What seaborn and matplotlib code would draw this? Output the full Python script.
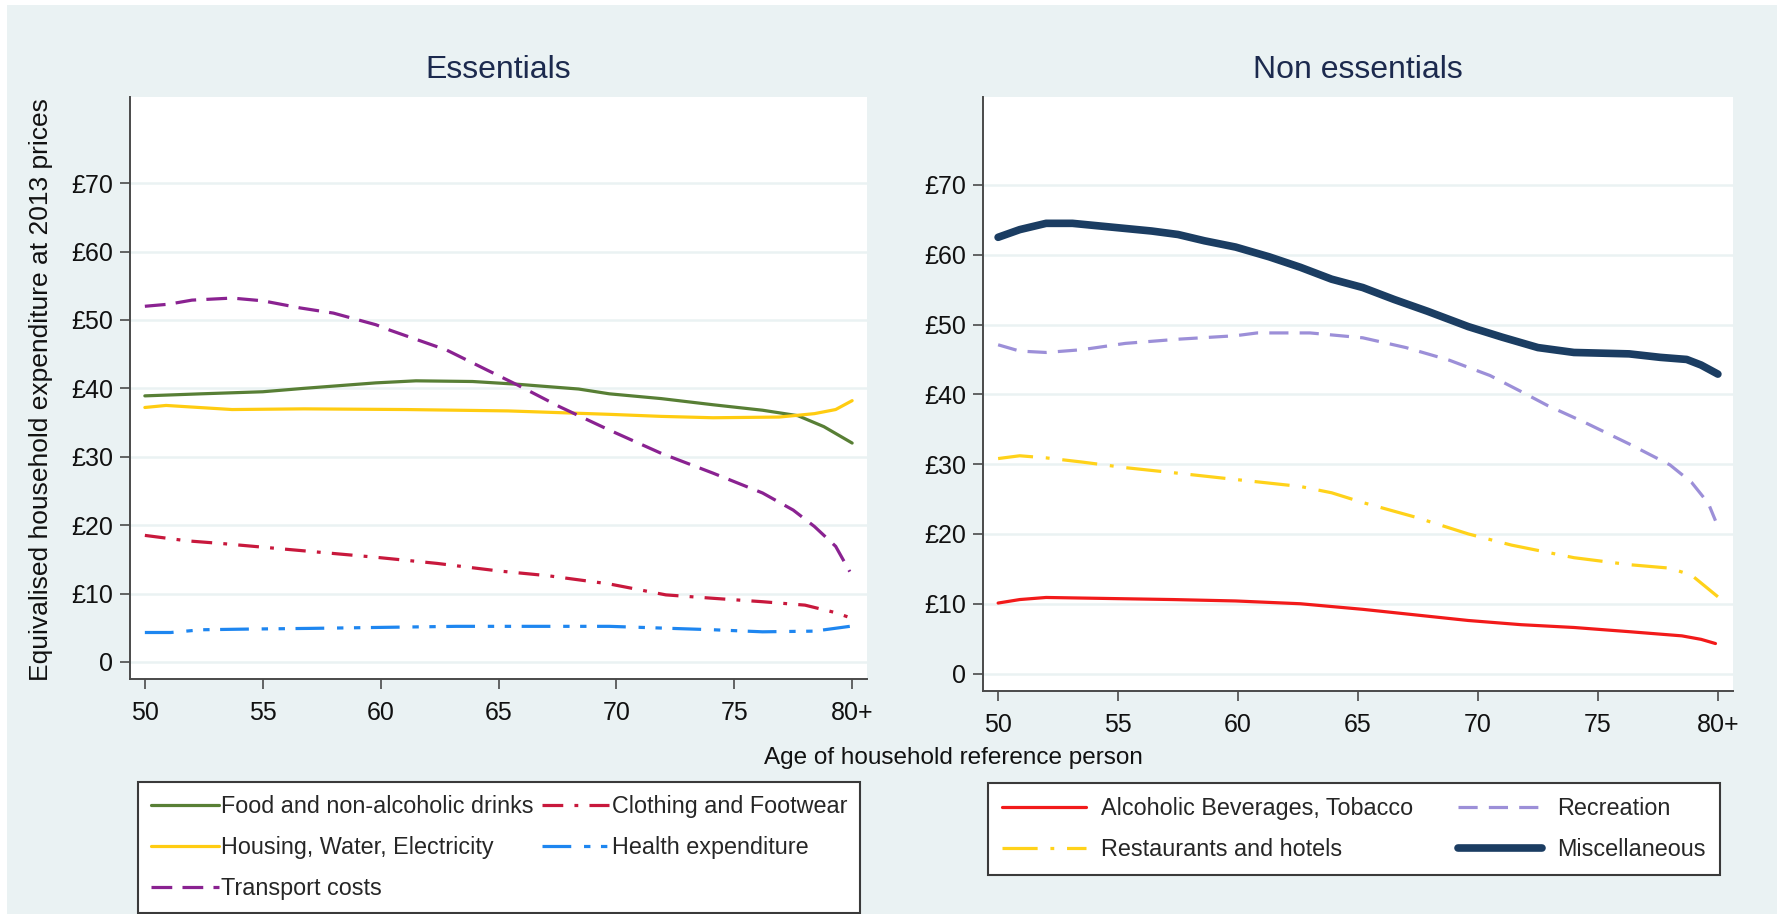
import matplotlib
matplotlib.use("Agg")
import matplotlib.pyplot as plt
from matplotlib.patches import Rectangle
import seaborn as sns
import pandas as pd

# ---------------- data ----------------
x_ticks = [50, 55, 60, 65, 70, 75, 80]
x_ticklabels = ["50", "55", "60", "65", "70", "75", "80+"]
y_ticks = [0, 10, 20, 30, 40, 50, 60, 70]
y_ticklabels = ["0", "£10", "£20", "£30", "£40", "£50", "£60", "£70"]

food_age = [50, 52.4, 55, 56.75, 59.8, 61.5, 63.9, 65.8, 68.4, 69.7, 71.9, 74.1, 76.2, 77.7, 78.8, 80]
food_val = [38.9, 39.2, 39.5, 40.0, 40.8, 41.1, 41.0, 40.6, 39.9, 39.2, 38.5, 37.6, 36.8, 36.0, 34.4, 32.0]

housing_age = [50, 50.9, 53.7, 56.75, 61.1, 65.4, 69.7, 71.9, 74.1, 76.9, 78.4, 79.3, 80]
housing_val = [37.2, 37.5, 36.9, 37.0, 36.9, 36.7, 36.2, 35.9, 35.7, 35.8, 36.3, 36.9, 38.2]

transport_age = [50, 51.0, 52.0, 53.7, 55.0, 56.6, 58.0, 59.8, 60.4, 62.8, 64.5, 65.8, 67.6, 69.7,
                 71.9, 74.1, 76.2, 77.5, 78.4, 79.3, 79.9]
transport_val = [52.0, 52.3, 52.9, 53.2, 52.8, 51.75, 51.0, 49.3, 48.5, 45.6, 42.7, 40.5, 37.3, 33.9,
                 30.5, 27.6, 24.7, 22.2, 19.8, 16.9, 13.2]

clothing_age = [50, 51.8, 53.3, 54.6, 57.2, 59.8, 62.4, 65.0, 67.1, 69.7, 72.1, 74.1, 76.2, 78.0, 79.3, 79.8]
clothing_val = [18.5, 17.7, 17.3, 16.9, 16.1, 15.3, 14.4, 13.3, 12.6, 11.4, 9.8, 9.3, 8.8, 8.3, 7.2, 6.6]

health_age = [50, 51.1, 52.4, 54.4, 57.0, 63.2, 69.7, 74.1, 76.2, 78.4, 79.9]
health_val = [4.3, 4.3, 4.7, 4.8, 4.9, 5.2, 5.2, 4.7, 4.4, 4.5, 5.2]

misc_age = [50, 50.9, 52.0, 53.1, 54.9, 56.4, 57.5, 58.6, 59.9, 61.3, 62.6, 63.9, 65.2, 66.5, 67.9,
            69.6, 71.0, 72.5, 74.0, 76.3, 77.6, 78.7, 79.3, 80]
misc_val = [62.5, 63.6, 64.5, 64.5, 63.9, 63.4, 62.9, 62.0, 61.1, 59.7, 58.2, 56.5, 55.3, 53.6, 51.9,
            49.7, 48.2, 46.7, 46.0, 45.8, 45.3, 45.0, 44.2, 42.9]

recreation_age = [50, 50.9, 52.0, 53.5, 55.3, 57.5, 59.9, 60.8, 63.0, 65.2, 67.0, 68.8, 70.5, 71.8,
                  72.9, 74.5, 76.3, 78.0, 78.9, 79.6, 79.9]
recreation_val = [47.1, 46.2, 46.0, 46.4, 47.3, 47.9, 48.4, 48.8, 48.8, 48.1, 46.7, 44.9, 42.7, 40.4,
                  38.4, 35.9, 32.9, 29.9, 27.4, 24.4, 21.9]

restaurants_age = [50, 50.9, 52.0, 53.5, 55.3, 57.5, 59.9, 62.6, 63.9, 65.2, 67.4, 69.6, 71.4, 74.0,
                   76.3, 78.0, 78.9, 80]
restaurants_val = [30.8, 31.2, 30.9, 30.3, 29.5, 28.7, 27.8, 26.8, 25.9, 24.5, 22.4, 20.0, 18.4, 16.6,
                   15.6, 15.1, 14.1, 11.0]

alcohol_age = [50, 50.9, 52.0, 57.3, 59.9, 62.6, 65.2, 67.4, 69.6, 71.8, 74.0, 76.3, 78.5, 79.3, 79.9]
alcohol_val = [10.1, 10.6, 10.9, 10.6, 10.4, 10.0, 9.2, 8.4, 7.6, 7.0, 6.6, 6.0, 5.4, 4.9, 4.3]

# ---------------- styling ----------------
W, H = 1779, 914
sns.set_style("white")
plt.rcParams["font.family"] = ["Liberation Sans", "DejaVu Sans"]

BG = "#EAF2F3"
AXC = "#4a4a4a"

fig = plt.figure(figsize=(W / 100, H / 100), dpi=100)
fig.patch.set_facecolor("white")
fig.patches.append(Rectangle((7 / W, 0), (1777 - 7) / W, (914 - 5) / H,
                             transform=fig.transFigure, facecolor=BG, edgecolor="none", zorder=-10))


def px_axes(l, t, r, b):
    return fig.add_axes([l / W, 1 - b / H, (r - l) / W, (b - t) / H])


ax1 = px_axes(130, 97, 867, 679)
ax2 = px_axes(983, 97, 1733, 691)

left_series = [
    ("Food and non-alcoholic drinks", food_age, food_val, "#587F35", "-", 2.3),
    ("Clothing and Footwear", clothing_age, clothing_val, "#C8183C", (0, (6.5, 3.5, 1.2, 3.5)), 2.3),
    ("Housing, Water, Electricity", housing_age, housing_val, "#FFCC11", "-", 2.3),
    ("Health expenditure", health_age, health_val, "#1E86F0", (0, (9, 4, 2, 3.3, 2, 3.3)), 2.3),
    ("Transport costs", transport_age, transport_val, "#8A2291", (0, (6.5, 3.2)), 2.3),
]
right_series = [
    ("Alcoholic Beverages, Tobacco", alcohol_age, alcohol_val, "#F21A1A", "-", 2.3),
    ("Recreation", recreation_age, recreation_val, "#9C8FD8", (0, (6, 3.5)), 2.3),
    ("Restaurants and hotels", restaurants_age, restaurants_val, "#FFD21A", (0, (11, 4, 1.2, 4)), 2.3),
    ("Miscellaneous", misc_age, misc_val, "#1B3D62", "-", 5.5),
]


def draw(ax, series):
    for name, a, v, c, ls, lw in series:
        df = pd.DataFrame({"age": a, "value": v})
        sns.lineplot(data=df, x="age", y="value", ax=ax, color=c, linestyle=ls,
                     linewidth=lw, label=name, estimator=None, sort=False)
    ax.set_facecolor("white")
    ax.set_xlim(49.37, 80.63)
    ax.set_ylim(-2.5, 82.6)
    ax.set_xticks(x_ticks)
    ax.set_xticklabels(x_ticklabels)
    ax.set_yticks(y_ticks)
    ax.set_yticklabels(y_ticklabels)
    ax.set_xlabel("")
    ax.set_ylabel("")
    ax.grid(axis="y", color=BG, linewidth=1.8)
    ax.grid(axis="x", visible=False)
    ax.set_axisbelow(True)
    for s in ("top", "right"):
        ax.spines[s].set_visible(False)
    for s in ("left", "bottom"):
        ax.spines[s].set_color(AXC)
        ax.spines[s].set_linewidth(1.4)
    ax.tick_params(axis="both", direction="out", length=7.5, width=1.2, color=AXC,
                   labelsize=18, labelcolor="#111111", left=True, bottom=True)
    ax.tick_params(axis="y", pad=4.5)
    ax.tick_params(axis="x", pad=8.5)


draw(ax1, left_series)
draw(ax2, right_series)

TITLE_C = "#1C2A4E"
fig.text(498.5 / W, 1 - 70 / H, "Essentials", ha="center", va="center", fontsize=23, color=TITLE_C)
fig.text(1358 / W, 1 - 70 / H, "Non essentials", ha="center", va="center", fontsize=23, color=TITLE_C)
fig.text(41 / W, 1 - 390 / H, "Equivalised household expenditure at 2013 prices", rotation=90,
         ha="center", va="center", fontsize=19, color="#111111")
fig.text(953 / W, 1 - 758 / H, "Age of household reference person", ha="center", va="center",
         fontsize=17.5, color="#111111")


def style_legend(leg):
    fr = leg.get_frame()
    fr.set_edgecolor("#3a3a3a")
    fr.set_linewidth(1.5)
    fr.set_facecolor("white")
    fr.set_alpha(1)
    fr.set_boxstyle("square", pad=0)


def row_major(handles, labels, order):
    d = dict(zip(labels, handles))
    return [d[k] for k in order], order


h1, l1 = ax1.get_legend_handles_labels()
h1, l1 = row_major(h1, l1, ["Food and non-alcoholic drinks", "Housing, Water, Electricity",
                            "Transport costs", "Clothing and Footwear", "Health expenditure"])
leg1 = ax1.legend(h1, l1, ncol=2, loc="upper left", mode="expand",
                  bbox_to_anchor=(138 / W, 0.0, 722 / W, 1 - 782 / H), bbox_transform=fig.transFigure,
                  fontsize=16.8, frameon=True, fancybox=False, borderaxespad=0, borderpad=0.55,
                  handlelength=2.9, handletextpad=0.1, labelspacing=0.78, columnspacing=0.1)
style_legend(leg1)

h2, l2 = ax2.get_legend_handles_labels()
h2, l2 = row_major(h2, l2, ["Alcoholic Beverages, Tobacco", "Restaurants and hotels",
                            "Recreation", "Miscellaneous"])
leg2 = ax2.legend(h2, l2, ncol=2, loc="upper left", mode="expand",
                  bbox_to_anchor=(988 / W, 0.0, 732 / W, 1 - 783 / H), bbox_transform=fig.transFigure,
                  fontsize=16.8, frameon=True, fancybox=False, borderaxespad=0, borderpad=0.6,
                  handlelength=3.6, handletextpad=0.65, labelspacing=0.78, columnspacing=1.2)
style_legend(leg2)

fig.savefig("out.png", dpi=100)
